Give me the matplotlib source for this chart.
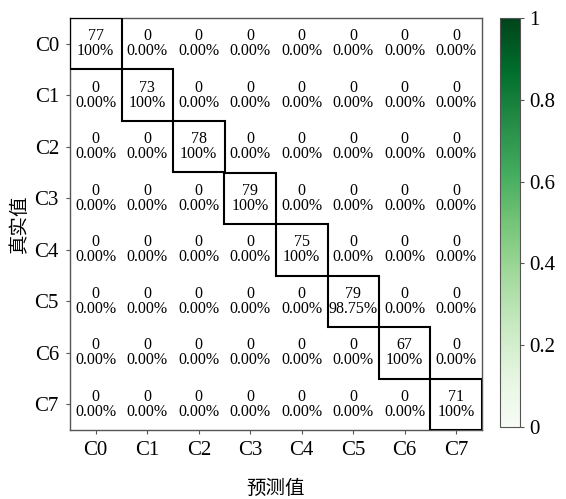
import numpy as np
import matplotlib
matplotlib.use('Agg')
import matplotlib.pyplot as plt
from matplotlib.patches import Rectangle
from matplotlib.cm import ScalarMappable
from matplotlib.colors import Normalize

plt.rcParams['font.family'] = ['Liberation Serif', 'Noto Sans CJK SC']

# class labels
classes = ['C0', 'C1', 'C2', 'C3', 'C4', 'C5', 'C6', 'C7']
# correct counts on the diagonal
diag_counts = [77, 73, 78, 79, 75, 79, 67, 71]
# recall per class, in percent
diag_pct = [100, 100, 100, 100, 100, 98.75, 100, 100]
cbar_ticks = [0, 0.2, 0.4, 0.6, 0.8, 1]
cbar_ticklabels = ['0', '0.2', '0.4', '0.6', '0.8', '1']

n = len(classes)
counts = np.zeros((n, n), dtype=int)
pcts = np.zeros((n, n))
for i in range(n):
    counts[i, i] = diag_counts[i]
    pcts[i, i] = diag_pct[i]

fig = plt.figure(figsize=(5.66, 4.99), dpi=100)
ax = fig.add_axes([70 / 566, 69 / 499, 412 / 566, 412 / 499])
ax.set_facecolor('white')
ax.set_xlim(-0.5, n - 0.5)
ax.set_ylim(n - 0.5, -0.5)

for i in range(n):
    for j in range(n):
        p = pcts[i, j]
        if p == 100:
            ptxt = '100%'
        else:
            ptxt = '%.2f%%' % p
        ax.text(j, i, '%d\n%s' % (counts[i, j], ptxt), ha='center', va='center',
                fontsize=11.5, linespacing=0.95, color='black')
    ax.add_patch(Rectangle((i - 0.5, i - 0.5), 1, 1, fill=False,
                           edgecolor='black', linewidth=1.5, zorder=3))

ax.set_xticks(range(n))
ax.set_xticklabels(classes, fontsize=15)
ax.set_yticks(range(n))
ax.set_yticklabels(classes, fontsize=15)
ax.tick_params(length=3, width=0.8, color='#555555', pad=5)
for s in ax.spines.values():
    s.set_color('#555555')
    s.set_linewidth(1.0)

ax.set_xlabel('预测值', fontsize=14, labelpad=14)
ax.set_ylabel('真实值', fontsize=14, labelpad=4)

cax = fig.add_axes([500 / 566, 72 / 499, 20 / 566, 409 / 499])
sm = ScalarMappable(norm=Normalize(0, 1), cmap='Greens')
cb = fig.colorbar(sm, cax=cax)
cb.set_ticks(cbar_ticks)
cb.set_ticklabels(cbar_ticklabels)
cb.ax.tick_params(labelsize=15, length=3, color='#555555')
cb.outline.set_edgecolor('#555555')

fig.savefig('out.png', dpi=100)
